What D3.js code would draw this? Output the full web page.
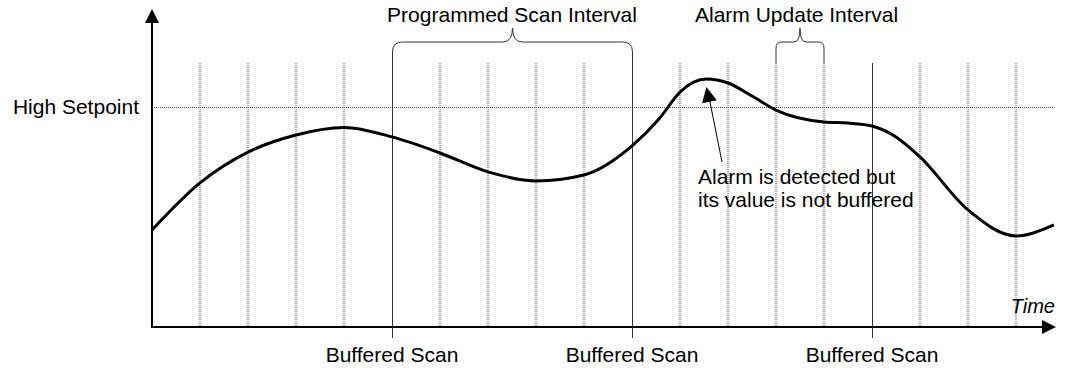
<!DOCTYPE html>
<html>
<head>
<meta charset="utf-8">
<script src="https://cdn.jsdelivr.net/npm/d3@7"></script>
<style>
  body { margin: 0; background: #ffffff; }
  text { font-family: "Liberation Sans", Arial, sans-serif; fill: #000; }
</style>
</head>
<body>
<div id="chart"></div>
<script>
// Signal over time (time in scan units, value relative to setpoint = 10)
const times  = [0, 1, 2, 3, 4, 5, 6, 7, 8, 9, 10, 10.58, 11, 11.55, 12, 12.5, 13, 14, 14.5, 15, 15.5, 16, 17, 18, 18.79];
const values = [4.41, 6.55, 7.95, 8.73, 9.07, 8.64, 7.91, 7.05, 6.64, 6.91, 8.23, 9.5, 10.68, 11.27, 11.09, 10.5, 9.86, 9.32, 9.27, 9.14, 8.64, 7.73, 5.32, 4.14, 4.64];

// Alarm update ticks (dotted) and buffered scans (solid)
const updateTicks = [1, 2, 3, 4, 6, 7, 8, 9, 11, 12, 13, 14, 16, 17, 18];
const bufferedScans = [5, 10, 15];
const bufferedLabels = ["Buffered Scan", "Buffered Scan", "Buffered Scan"];

const setpoint = 10;
const setpointLabel = "High Setpoint";
const timeLabel = "Time";

// Braces: [start, end], label
const scanInterval = [5, 10];
const scanIntervalLabel = "Programmed Scan Interval";
const updateInterval = [13, 14];
const updateIntervalLabel = "Alarm Update Interval";

const alarmPeak = 11.55;
const alarmNote = ["Alarm is detected but", "its value is not buffered"];

const width = 1066;
const height = 368;

const svg = d3.select("#chart")
    .append("svg")
    .attr("width", width)
    .attr("height", height);

// Scales
const x = d3.scaleLinear().domain([0, 18.8]).range([152, 1054.4]);
const y = d3.scaleLinear().domain([0, 10]).range([327, 107]);

const gridTop = 63;
const fontSize = 21;

// Dotted update lines
svg.selectAll(".tick-line")
    .data(updateTicks)
    .enter()
    .append("line")
    .attr("x1", d => x(d)).attr("x2", d => x(d))
    .attr("y1", gridTop).attr("y2", y(0))
    .attr("stroke", "#444")
    .attr("stroke-width", 1)
    .attr("stroke-dasharray", "1,1");

// Solid buffered scan lines
svg.selectAll(".scan-line")
    .data(bufferedScans)
    .enter()
    .append("line")
    .attr("x1", d => Math.round(x(d)) + 0.5).attr("x2", d => Math.round(x(d)) + 0.5)
    .attr("y1", d => (d >= scanInterval[0] && d <= scanInterval[1]) ? 55 : gridTop)
    .attr("y2", 338)
    .attr("stroke", "#333")
    .attr("stroke-width", 1);

svg.selectAll(".scan-label")
    .data(bufferedScans)
    .enter()
    .append("text")
    .attr("x", d => x(d))
    .attr("y", 362)
    .attr("text-anchor", "middle")
    .attr("font-size", fontSize)
    .text((d, i) => bufferedLabels[i]);

// Setpoint line
svg.append("line")
    .attr("x1", x(0)).attr("x2", x(18.8))
    .attr("y1", y(setpoint) + 0.5).attr("y2", y(setpoint) + 0.5)
    .attr("stroke", "#444")
    .attr("stroke-width", 1)
    .attr("stroke-dasharray", "1,1");

svg.append("text")
    .attr("x", 139)
    .attr("y", y(setpoint) + 7)
    .attr("text-anchor", "end")
    .attr("font-size", fontSize)
    .text(setpointLabel);

// Brace helper
const brace = (x1, x2, yTop, yCusp, yEnd, r) => {
    const xm = (x1 + x2) / 2;
    return `M${x1},${yEnd} L${x1},${yTop + r} Q${x1},${yTop} ${x1 + r},${yTop}` +
        ` L${xm - r},${yTop} Q${xm},${yTop} ${xm},${yCusp}` +
        ` Q${xm},${yTop} ${xm + r},${yTop} L${x2 - r},${yTop}` +
        ` Q${x2},${yTop} ${x2},${yTop + r} L${x2},${yEnd}`;
};

svg.append("path")
    .attr("d", brace(Math.round(x(scanInterval[0])) + 0.5, Math.round(x(scanInterval[1])) + 0.5, 42, 28, 56, 10))
    .attr("fill", "none")
    .attr("stroke", "#333")
    .attr("stroke-width", 1);

svg.append("text")
    .attr("x", x((scanInterval[0] + scanInterval[1]) / 2))
    .attr("y", 22)
    .attr("text-anchor", "middle")
    .attr("font-size", fontSize)
    .text(scanIntervalLabel);

svg.append("path")
    .attr("d", brace(x(updateInterval[0]), x(updateInterval[1]), 42, 28, gridTop, 6))
    .attr("fill", "none")
    .attr("stroke", "#333")
    .attr("stroke-width", 1);

svg.append("text")
    .attr("x", 695)
    .attr("y", 22)
    .attr("font-size", fontSize)
    .text(updateIntervalLabel);

// Signal curve
const line = d3.line()
    .x((d, i) => x(times[i]))
    .y(d => y(d))
    .curve(d3.curveMonotoneX);

svg.append("path")
    .datum(values)
    .attr("d", line)
    .attr("fill", "none")
    .attr("stroke", "#000")
    .attr("stroke-width", 3);

// Axes with arrowheads
svg.append("line")
    .attr("x1", x(0)).attr("x2", x(0))
    .attr("y1", y(0) + 1).attr("y2", 20)
    .attr("stroke", "#000").attr("stroke-width", 2);
svg.append("path")
    .attr("d", `M${x(0)},9 L${x(0) - 7},23 L${x(0) + 7},23 Z`)
    .attr("fill", "#000");

svg.append("line")
    .attr("x1", x(0) - 1).attr("x2", 1045)
    .attr("y1", y(0)).attr("y2", y(0))
    .attr("stroke", "#000").attr("stroke-width", 2);
svg.append("path")
    .attr("d", `M1056,${y(0)} L1042,${y(0) - 7} L1042,${y(0) + 7} Z`)
    .attr("fill", "#000");

svg.append("text")
    .attr("x", 1055)
    .attr("y", 313)
    .attr("text-anchor", "end")
    .attr("font-size", 20)
    .attr("font-style", "italic")
    .text(timeLabel);

// Alarm annotation
const tipX = x(alarmPeak), tipY = y(values[times.indexOf(alarmPeak)]) + 8;
const tailX = 722, tailY = 162;
svg.append("line")
    .attr("x1", tailX).attr("y1", tailY)
    .attr("x2", tipX + 3).attr("y2", tipY + 12)
    .attr("stroke", "#000").attr("stroke-width", 1);
const ang = Math.atan2(tipY - tailY, tipX - tailX);
const hl = 15, hw = 7.5;
const bx = tipX - hl * Math.cos(ang), by = tipY - hl * Math.sin(ang);
svg.append("path")
    .attr("d", `M${tipX},${tipY} L${bx + hw * Math.sin(ang)},${by - hw * Math.cos(ang)} L${bx - hw * Math.sin(ang)},${by + hw * Math.cos(ang)} Z`)
    .attr("fill", "#000");

svg.selectAll(".note")
    .data(alarmNote)
    .enter()
    .append("text")
    .attr("x", 698)
    .attr("y", (d, i) => 184 + i * 23)
    .attr("font-size", fontSize)
    .text(d => d);
</script>
</body>
</html>
